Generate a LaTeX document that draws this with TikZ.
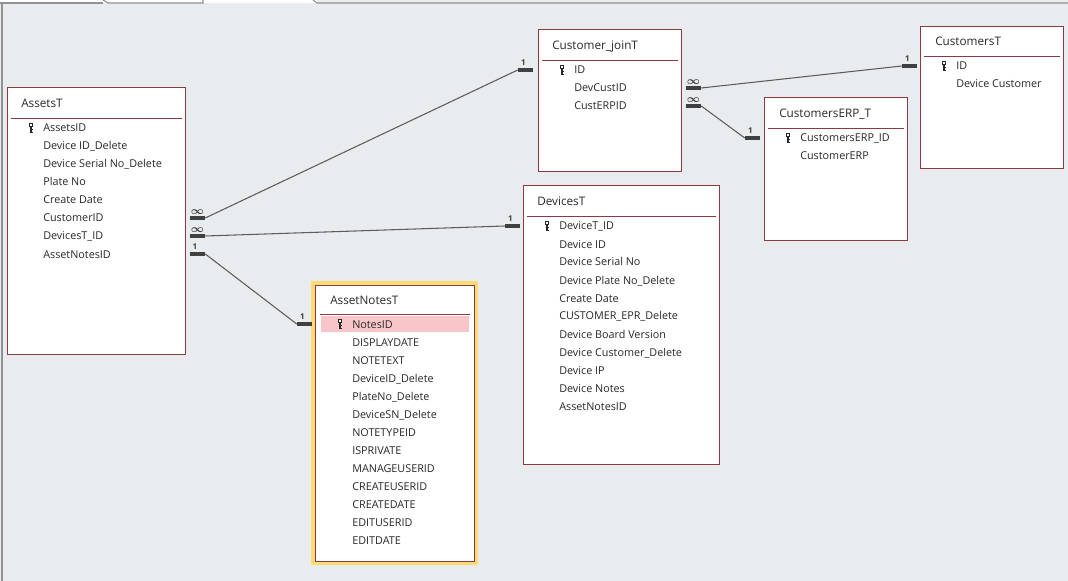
\documentclass[tikz,border=0pt]{standalone}
\usepackage{amsmath}
\usepackage{fontspec}
\setmainfont{Open Sans}
\usetikzlibrary{positioning}
\definecolor{canvas}{RGB}{233, 236, 239}
\definecolor{frame}{RGB}{140, 58, 66}
\definecolor{ink}{RGB}{40, 40, 40}
\definecolor{link}{RGB}{92, 92, 92}
\definecolor{bar}{RGB}{64, 64, 64}
\definecolor{glow}{RGB}{255, 220, 115}
\definecolor{pick}{RGB}{248, 198, 200}
\definecolor{tabline}{RGB}{145, 145, 145}
\newcommand{\many}{$\boldsymbol{\infty}$}

\begin{document}
\begin{tikzpicture}[x=0.75pt, y=-0.75pt,
  tbl/.style={draw=frame, fill=white, line width=0.75pt},
  sep/.style={frame, line width=0.7pt},
  tbltitle/.style={anchor=base west, inner sep=0pt, text=ink, font=\fontsize{8.8}{10}\selectfont},
  field/.style={anchor=base west, inner sep=0pt, text=ink, font=\fontsize{8.1}{10}\selectfont},
  barend/.style={fill=bar, inner sep=0pt, minimum width=11.25pt, minimum height=2.6pt},
  card/.style={inner sep=0pt, text=bar, font=\fontsize{6}{6}\selectfont\bfseries},
  manycard/.style={inner sep=0pt, text=bar, font=\fontsize{8.5}{8}\selectfont},
  relline/.style={link, line width=0.8pt},
  keyicon/.pic={
    \fill[ink] (-2,-5) rectangle (2,-1);
    \fill[white] (-0.8,-4) rectangle (0.8,-2.2);
    \fill[ink] (-0.7,-1) rectangle (0.7,5);
    \fill[ink] (0.7,1.4) rectangle (2,2.4);
    \fill[ink] (0.7,3.6) rectangle (2,4.6);
  }]

  \fill[canvas] (0, 0) rectangle (1068, 581);
  \useasboundingbox (0, 0) rectangle (1068, 581);

  % tab strip
  \fill[white] (0, 0) rectangle (317, 3);
  \draw[tabline, line width=0.8pt] (0, 3) -- (103, 3);
  \draw[tabline, line width=0.8pt] (103, 0) -- (108, 3) -- (203, 3) -- (203, 0);
  \draw[tabline, line width=0.8pt] (313, 0) -- (317, 3) -- (1068, 3);
  \draw[tabline, line width=0.8pt] (2, 3) -- (2, 581);

  % AssetsT
  \draw[tbl] (7, 88) rectangle (185, 354);
  \node[tbltitle] (assets) at (21, 108) {AssetsT};
  \draw[sep] (11, 118) -- (182, 118);
  \pic at (31, 128) {keyicon};
  \foreach \f [count=\i from 0] in {AssetsID, Device ID\_Delete, Device Serial No\_Delete,
    Plate No, Create Date, CustomerID, DevicesT\_ID, AssetNotesID}
    \node[field] (assets-\i) at (43, 132+18*\i) {\f};

  % Customer_joinT
  \draw[tbl] (538, 30) rectangle (681, 172);
  \node[tbltitle] (join) at (552, 50) {Customer\_joinT};
  \draw[sep] (542, 60) -- (678, 60);
  \pic at (562, 70) {keyicon};
  \foreach \f [count=\i from 0] in {ID, DevCustID, CustERPID}
    \node[field] (join-\i) at (574, 74+18*\i) {\f};

  % CustomersT
  \draw[tbl] (920, 27) rectangle (1063, 169);
  \node[tbltitle] (cust) at (935, 46) {CustomersT};
  \draw[sep] (924, 56) -- (1060, 56);
  \pic at (944, 66) {keyicon};
  \foreach \f [count=\i from 0] in {ID, Device Customer}
    \node[field] (cust-\i) at (956, 70+18*\i) {\f};

  % CustomersERP_T
  \draw[tbl] (764, 98) rectangle (907, 241);
  \node[tbltitle] (erp) at (779, 118) {CustomersERP\_T};
  \draw[sep] (768, 128) -- (904, 128);
  \pic at (788, 138) {keyicon};
  \foreach \f [count=\i from 0] in {CustomersERP\_ID, CustomerERP}
    \node[field] (erp-\i) at (800, 142+18*\i) {\f};

  % DevicesT
  \draw[tbl] (523, 186) rectangle (719, 464);
  \node[tbltitle] (dev) at (537, 206) {DevicesT};
  \draw[sep] (527, 216) -- (716, 216);
  \pic at (547, 226) {keyicon};
  \foreach \f [count=\i from 0] in {DeviceT\_ID, Device ID, Device Serial No,
    Device Plate No\_Delete, Create Date, CUSTOMER\_EPR\_Delete, Device Board Version,
    Device Customer\_Delete, Device IP, Device Notes, AssetNotesID}
    \node[field] (dev-\i) at (559, 230+18*\i) {\f};

  % AssetNotesT (selected)
  \draw[glow, line width=3pt] (313, 283) rectangle (476, 563);
  \draw[tbl] (315, 285) rectangle (474, 561);
  \node[tbltitle] (notes) at (330, 304) {AssetNotesT};
  \draw[sep] (320, 314) -- (470, 314);
  \fill[pick] (321, 316) rectangle (469, 332);
  \pic at (340, 324) {keyicon};
  \foreach \f [count=\i from 0] in {NotesID, DISPLAYDATE, NOTETEXT, DeviceID\_Delete,
    PlateNo\_Delete, DeviceSN\_Delete, NOTETYPEID, ISPRIVATE, MANAGEUSERID,
    CREATEUSERID, CREATEDATE, EDITUSERID, EDITDATE}
    \node[field] (notes-\i) at (352, 328+18*\i) {\f};

  % relationship ends
  \node[barend, label={[manycard, label distance=1pt]above:\many}] (b1) at (197.5, 218) {};
  \node[barend, label={[card, label distance=2pt, xshift=-1.5pt]above:1}] (b2) at (525.5, 70) {};
  \node[barend, label={[manycard, label distance=1pt]above:\many}] (b3) at (197.5, 236) {};
  \node[barend, label={[card, label distance=2pt, xshift=-1.5pt]above:1}] (b4) at (512.5, 226) {};
  \node[barend, label={[card, label distance=2pt, xshift=-2pt]above:1}] (b5) at (197.5, 254) {};
  \node[barend, label={[card, label distance=2pt, xshift=-1.5pt]above:1}] (b6) at (304.5, 324) {};
  \node[barend, label={[manycard, label distance=1pt]above:\many}] (b7) at (693.5, 88) {};
  \node[barend, label={[card, label distance=2pt, xshift=-1.5pt]above:1}] (b8) at (909.5, 66) {};
  \node[barend, label={[manycard, label distance=1pt]above:\many}] (b9) at (693.5, 106) {};
  \node[barend, label={[card, label distance=2pt, xshift=-1.5pt]above:1}] (b10) at (752.5, 138) {};

  \draw[relline] (b1.east) -- (b2.west);
  \draw[relline] (b3.east) -- (b4.west);
  \draw[relline] (b5.east) -- (b6.west);
  \draw[relline] (b7.east) -- (b8.west);
  \draw[relline] (b9.east) -- (b10.west);

\end{tikzpicture}
\end{document}
